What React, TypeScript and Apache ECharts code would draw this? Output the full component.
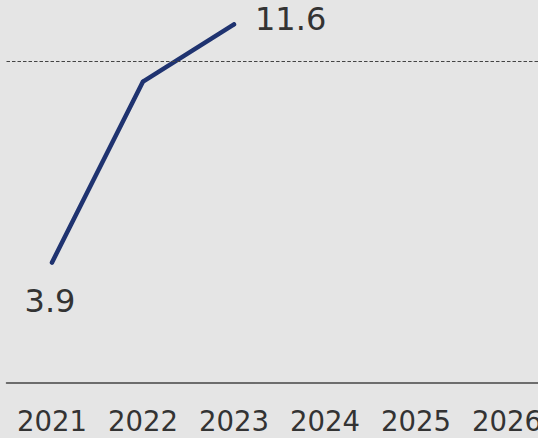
import React, { useEffect, useRef } from "react";
import * as echarts from "echarts";

const years = ["2021", "2022", "2023", "2024", "2025", "2026"];
const values: (number | null)[] = [3.9, 9.75, 11.6, null, null, null];
const referenceValue = 10.4;
const labelledIndices = [0, 2];

export default function App() {
  const ref = useRef<HTMLDivElement>(null);
  useEffect(() => {
    if (!ref.current) return;
    const chart = echarts.init(ref.current, null, { renderer: "svg" });
    const font = "DejaVu Sans";
    chart.setOption({
      animation: false,
      backgroundColor: "#e5e5e5",
      textStyle: { fontFamily: font },
      grid: {
        left: 6.5,
        width: 546,
        top: 12,
        height: 371,
        containLabel: false,
        outerBoundsMode: "none",
      },
      xAxis: {
        type: "category",
        data: years,
        boundaryGap: true,
        axisLine: { show: true, lineStyle: { color: "#444", width: 1.5 } },
        axisTick: { show: false },
        axisLabel: { color: "#333", fontSize: 27.5, margin: 24, fontFamily: font, interval: 0 },
        splitLine: { show: false },
      },
      yAxis: { type: "value", min: 0, max: 12, show: false, splitLine: { show: false } },
      series: [
        {
          type: "line",
          data: values.map((v, i) =>
            labelledIndices.includes(i)
              ? {
                  value: v,
                  label: {
                    show: true,
                    position: i === 0 ? "bottom" : "right",
                    distance: i === 0 ? 21 : 19,
                    offset: i === 0 ? [-2, 0] : [0, -5],
                    formatter: (p: any) => String(p.value),
                  },
                }
              : v
          ),
          symbol: "circle",
          symbolSize: 4,
          itemStyle: { color: "#1f3370" },
          lineStyle: { color: "#1f3370", width: 4.5, cap: "round", join: "round" },
          label: { show: false, color: "#333", fontSize: 32, fontFamily: font },
          markLine: {
            silent: true,
            symbol: ["none", "none"],
            label: { show: false },
            lineStyle: { color: "#444", width: 1, type: [3.5, 2] },
            data: [{ yAxis: referenceValue }],
          },
        },
      ],
    });
    return () => chart.dispose();
  }, []);
  return (
    <div
      ref={ref}
      style={{ position: "fixed", left: 0, top: 0, width: 538, height: 438 }}
    />
  );
}
